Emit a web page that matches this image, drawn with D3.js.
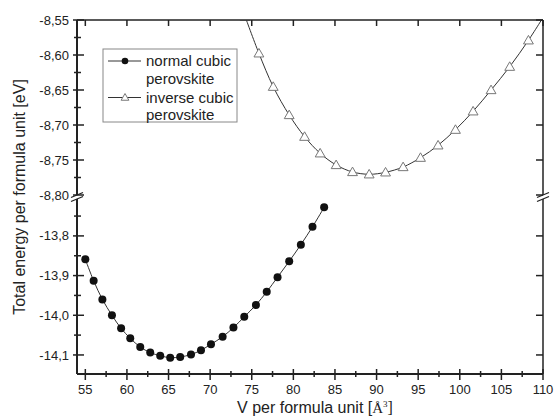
<!DOCTYPE html>
<html>
<head>
<meta charset="utf-8">
<script src="https://cdn.jsdelivr.net/npm/d3@7"></script>
<style>
  body { margin: 0; background: #fff; }
  svg { font-family: "Liberation Sans", Arial, sans-serif; }
</style>
</head>
<body>
<div id="chart"></div>
<script>
// data
const normalV = [55.0, 56.0, 57.05, 58.2, 59.3, 60.4, 61.6, 62.8, 64.0, 65.2, 66.4, 67.7,
  68.9, 70.1, 71.5, 72.8, 74.1, 75.5, 76.8, 78.1, 79.5, 80.9, 82.3, 83.7];
const normalE = [-13.859, -13.913, -13.960, -14.000, -14.033, -14.058, -14.080, -14.094,
  -14.102, -14.107, -14.105, -14.099, -14.088, -14.073, -14.054, -14.031, -14.004,
  -13.974, -13.941, -13.904, -13.864, -13.822, -13.777, -13.728];

// first and last points sit just outside the frame (line runs off the edge)
const inverseV = [74.2, 75.86, 77.58, 79.5, 81.35, 83.22, 85.14, 87.11, 89.11, 91.08, 93.19,
  95.28, 97.39, 99.48, 101.6, 103.76, 106.0, 108.25, 110.5];
const inverseE = [-8.545, -8.5976, -8.6453, -8.6857, -8.7167, -8.7404, -8.7571, -8.7671,
  -8.7704, -8.7676, -8.760, -8.7467, -8.729, -8.7067, -8.6804, -8.650, -8.6167, -8.579, -8.537];

const xTicks = [55, 60, 65, 70, 75, 80, 85, 90, 95, 100, 105, 110];
const topTicks = [-8.80, -8.75, -8.70, -8.65, -8.60, -8.55];
const bottomTicks = [-14.1, -14.0, -13.9, -13.8];
const legendLabels = [["normal cubic", "perovskite"], ["inverse cubic", "perovskite"]];

const W = 554, H = 420;
const pLeft = 77, pRight = 543, pTop = 20, pBottom = 374;
const breakTop = 195, breakBottom = 199;

const svg = d3.select("#chart").append("svg")
  .attr("width", W).attr("height", H);

const x = d3.scaleLinear().domain([54, 110]).range([pLeft, pRight]);
const yTop = d3.scaleLinear().domain([-8.80, -8.55]).range([breakTop, pTop]);
const yBot = d3.scaleLinear().domain([-14.148, -13.707]).range([pBottom, breakBottom]);

const comma = (d, n) => d.toFixed(n).replace(".", ",");

// clip regions for the two panels
const defs = svg.append("defs");
defs.append("clipPath").attr("id", "clipTop").append("rect")
  .attr("x", pLeft).attr("y", pTop).attr("width", pRight - pLeft).attr("height", breakTop - pTop);
defs.append("clipPath").attr("id", "clipBot").append("rect")
  .attr("x", pLeft).attr("y", breakBottom).attr("width", pRight - pLeft).attr("height", pBottom - breakBottom);

// curves
const inverse = inverseV.map((v, i) => ({ v, e: inverseE[i] }));
const normal = normalV.map((v, i) => ({ v, e: normalE[i] }));

const gTop = svg.append("g").attr("clip-path", "url(#clipTop)");
gTop.append("path")
  .datum(inverse)
  .attr("fill", "none").attr("stroke", "#333").attr("stroke-width", 1)
  .attr("d", d3.line().x(d => x(d.v)).y(d => yTop(d.e)).curve(d3.curveCatmullRom));

const tri = d3.symbol().type(d3.symbolTriangle).size(42);
gTop.selectAll(".tri").data(inverse).enter().append("path")
  .attr("transform", d => `translate(${x(d.v)},${yTop(d.e) + 0.8})`)
  .attr("d", tri)
  .attr("fill", "#fff").attr("stroke", "#777").attr("stroke-width", 1);

const gBot = svg.append("g").attr("clip-path", "url(#clipBot)");
gBot.append("path")
  .datum(normal)
  .attr("fill", "none").attr("stroke", "#333").attr("stroke-width", 1)
  .attr("d", d3.line().x(d => x(d.v)).y(d => yBot(d.e)).curve(d3.curveCatmullRom));

gBot.selectAll("circle").data(normal).enter().append("circle")
  .attr("cx", d => x(d.v)).attr("cy", d => yBot(d.e)).attr("r", 4)
  .attr("fill", "#111");

// frame
const axisColor = "#222";
const frame = svg.append("g").attr("stroke", axisColor).attr("fill", "none");
frame.append("line").attr("x1", pLeft).attr("x2", pRight).attr("y1", pTop).attr("y2", pTop).attr("stroke-width", 1.5);
frame.append("line").attr("x1", pLeft).attr("x2", pRight).attr("y1", pBottom).attr("y2", pBottom).attr("stroke-width", 2);
[pLeft, pRight].forEach(px => {
  frame.append("line").attr("x1", px).attr("x2", px).attr("y1", pTop).attr("y2", breakTop).attr("stroke-width", px === pLeft ? 2 : 1.5);
  frame.append("line").attr("x1", px).attr("x2", px).attr("y1", breakBottom).attr("y2", pBottom).attr("stroke-width", px === pLeft ? 2 : 1.5);
  // break marks
  [breakTop, breakBottom].forEach(py => {
    frame.append("line")
      .attr("x1", px - 6).attr("y1", py + 2.5).attr("x2", px + 6).attr("y2", py - 2.5)
      .attr("stroke-width", 1.3);
  });
});

// x axis ticks
const ticks = svg.append("g").attr("stroke", axisColor).attr("stroke-width", 1.5);
const xMinor = d3.range(57.5, 110, 5);
xTicks.forEach(t => {
  ticks.append("line").attr("x1", x(t)).attr("x2", x(t)).attr("y1", pBottom - 5).attr("y2", pBottom + 6);
  ticks.append("line").attr("x1", x(t)).attr("x2", x(t)).attr("y1", pTop).attr("y2", pTop + 6);
});
xMinor.forEach(t => {
  ticks.append("line").attr("x1", x(t)).attr("x2", x(t)).attr("y1", pBottom - 3).attr("y2", pBottom + 3);
});

svg.append("g").selectAll("text").data(xTicks).enter().append("text")
  .attr("x", d => x(d)).attr("y", pBottom + 20)
  .attr("text-anchor", "middle").attr("font-size", 13).attr("fill", "#222")
  .text(d => d);

// y axis ticks, top panel
const topMinor = d3.range(-8.775, -8.55, 0.05);
topTicks.forEach(t => {
  ticks.append("line").attr("x1", pLeft - 4).attr("x2", pLeft + 7).attr("y1", yTop(t)).attr("y2", yTop(t));
  ticks.append("line").attr("x1", pRight - 7).attr("x2", pRight).attr("y1", yTop(t)).attr("y2", yTop(t));
});
topMinor.forEach(t => {
  ticks.append("line").attr("x1", pLeft - 3).attr("x2", pLeft + 4).attr("y1", yTop(t)).attr("y2", yTop(t));
});
svg.append("g").selectAll("text").data(topTicks).enter().append("text")
  .attr("x", pLeft - 8).attr("y", d => yTop(d)).attr("dy", "0.35em")
  .attr("text-anchor", "end").attr("font-size", 13).attr("fill", "#222")
  .text(d => comma(d, 2));

// y axis ticks, bottom panel
const botMinor = [-14.05, -13.95, -13.85, -13.75];
bottomTicks.forEach(t => {
  ticks.append("line").attr("x1", pLeft - 4).attr("x2", pLeft + 7).attr("y1", yBot(t)).attr("y2", yBot(t));
  ticks.append("line").attr("x1", pRight - 7).attr("x2", pRight).attr("y1", yBot(t)).attr("y2", yBot(t));
});
botMinor.forEach(t => {
  ticks.append("line").attr("x1", pLeft - 3).attr("x2", pLeft + 4).attr("y1", yBot(t)).attr("y2", yBot(t));
});
svg.append("g").selectAll("text").data(bottomTicks).enter().append("text")
  .attr("x", pLeft - 8).attr("y", d => yBot(d)).attr("dy", "0.35em")
  .attr("text-anchor", "end").attr("font-size", 13).attr("fill", "#222")
  .text(d => comma(d, 1));

// axis titles
const xTitle = svg.append("text")
  .attr("x", 315).attr("y", 413)
  .attr("text-anchor", "middle").attr("font-size", 16).attr("fill", "#222");
xTitle.append("tspan").text("V per formula unit [");
xTitle.append("tspan").attr("font-family", "Liberation Serif, serif").attr("font-size", 15).text("Å");
xTitle.append("tspan").attr("font-size", 9).attr("dy", -6).attr("font-family", "Liberation Serif, serif").text("3");
xTitle.append("tspan").attr("dy", 6).attr("font-family", "Liberation Serif, serif").attr("font-size", 16).text("]");

svg.append("text")
  .attr("transform", "translate(25,197) rotate(-90)")
  .attr("text-anchor", "middle").attr("font-size", 16).attr("fill", "#222")
  .text("Total energy per formula unit [eV]");

// legend
const legend = svg.append("g");
legend.append("rect")
  .attr("x", 103).attr("y", 49).attr("width", 134).attr("height", 73)
  .attr("fill", "#fff").attr("stroke", "#888").attr("stroke-width", 1);

const legendY = [61, 97.5];
legendY.forEach((ly, i) => {
  legend.append("line").attr("x1", 108).attr("x2", 141).attr("y1", ly).attr("y2", ly)
    .attr("stroke", "#333").attr("stroke-width", 1);
  if (i === 0) {
    legend.append("circle").attr("cx", 125).attr("cy", ly).attr("r", 3.3).attr("fill", "#111");
  } else {
    legend.append("path").attr("transform", `translate(125,${ly + 0.5})`)
      .attr("d", d3.symbol().type(d3.symbolTriangle).size(26))
      .attr("fill", "#fff").attr("stroke", "#777");
  }
  legendLabels[i].forEach((s, j) => {
    legend.append("text")
      .attr("x", 146).attr("y", ly + 5 + j * 17.5)
      .attr("font-size", 15).attr("fill", "#222")
      .text(s);
  });
});
</script>
</body>
</html>
